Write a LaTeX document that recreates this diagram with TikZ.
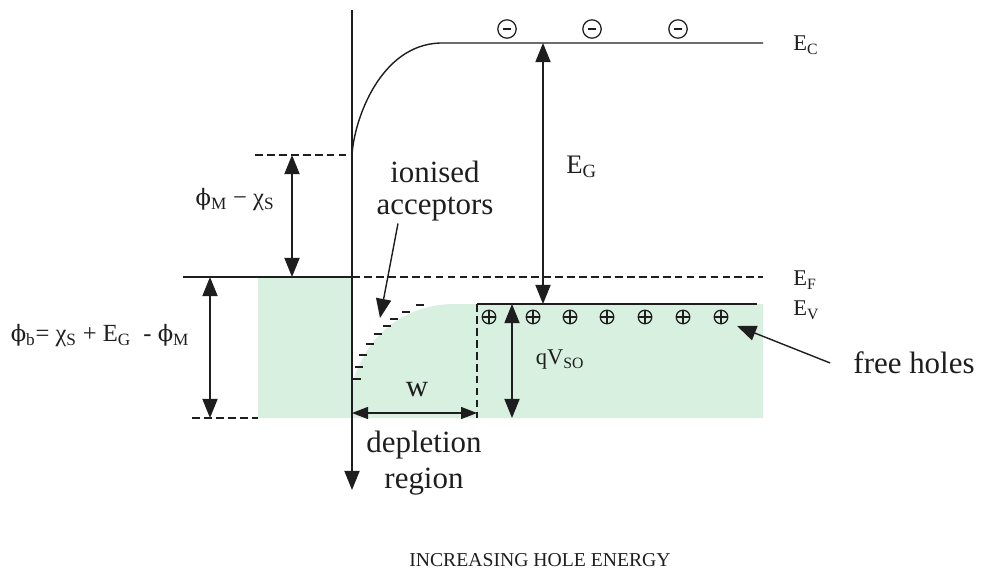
\documentclass[tikz,border=0pt]{standalone}
\usepackage{fontspec}
\setmainfont{Liberation Serif}
\newfontfamily\grk[Scale=0.92]{DejaVu Serif}
\usetikzlibrary{arrows.meta}
\definecolor{cmint}{HTML}{D8F0E0}
\definecolor{cink}{HTML}{1E1E1E}
\newcommand{\vphi}{{\grk ϕ}}
\tikzset{>={Triangle[length=4.8mm,width=3.8mm]},
  band/.style={line width=1pt,cink},
  lvl/.style={line width=1pt,cink,dash pattern=on 5.5pt off 3pt},
  dim/.style={<->,line width=1pt,cink},
  lbig/.style={inner sep=0pt,text=cink,font=\fontsize{22}{23}\selectfont},
  lmid/.style={inner sep=0pt,text=cink,font=\fontsize{16}{18}\selectfont},
  hole/.style={circle,draw=cink,line width=0.9pt,inner sep=0pt,minimum size=3.4mm,
    path picture={\draw[line width=0.9pt] (path picture bounding box.north) -- (path picture bounding box.south)
      (path picture bounding box.west) -- (path picture bounding box.east);}},
  elec/.style={circle,draw=cink,line width=0.9pt,inner sep=0pt,minimum size=4.6mm,
    path picture={\draw[line width=1.8pt] ([xshift=-0.9mm]path picture bounding box.center) -- ([xshift=0.9mm]path picture bounding box.center);}}}

\begin{document}
\begin{tikzpicture}[x=0.025cm,y=-0.025cm]
\useasboundingbox (0,0) rectangle (981,585);

% ============ shaded hole regions ============
\fill[cmint] (258,277) rectangle (352,418);
\fill[cmint] (352,418) -- (352,385) .. controls (364,340) and (400,304) .. (455,304)
  -- (763,304) -- (763,418) -- cycle;

% ============ named points ============
\coordinate (axTop) at (352,10);
\coordinate (axBot) at (352,490);
\coordinate (cbS) at (352,155);
\coordinate (cbK) at (440,43);
\coordinate (cbE) at (763,43);
\coordinate (phiL) at (255,155);
\coordinate (efL) at (183,277);
\coordinate (efM) at (352,277);
\coordinate (efE) at (763,277);
\coordinate (evL) at (477,304);
\coordinate (evE) at (757,304);
\coordinate (wR) at (477,418);
\coordinate (botL) at (192,418);
\coordinate (botR) at (258,418);

% ============ axis and bands ============
\draw[band,->] (axTop) -- (axBot);
\draw[band] (cbS) .. controls (354,120) and (380,45) .. (cbK) -- (cbE);
\draw[lvl] (phiL) -- (cbS);
\draw[band] (efL) -- (efM);
\draw[lvl] (efM) -- (efE);
\draw[band] (evL) -- (evE);
\draw[lvl] (evL) -- (wR);
\draw[lvl] (botL) -- (botR);

% ionised acceptors along the bent band
\foreach \x/\y in {420/305,406/312,394/319,387/326,378/334,370/344,363/355,359/367,357/379}
  \draw[line width=1pt,cink] (\x-4,\y) -- (\x+4,\y);

% ============ carriers ============
\foreach \x [count=\i] in {507,592,678}
  \node[elec] (e\i) at (\x,29) {};
\foreach \x [count=\i] in {489,533,570,607,645,683,721}
  \node[hole] (h\i) at (\x,317) {};

% ============ dimension arrows ============
\coordinate (d1a) at (292,155); \coordinate (d1b) at (292,277);
\coordinate (d2a) at (210,277); \coordinate (d2b) at (210,418);
\coordinate (d3a) at (543,43);  \coordinate (d3b) at (543,304);
\coordinate (d4a) at (512,304); \coordinate (d4b) at (512,418);
\coordinate (d5a) at (352,413); \coordinate (d5b) at (477,413);
\draw[dim] (d1a) -- (d1b);
\draw[dim] (d2a) -- (d2b);
\draw[dim] (d3a) -- (d3b);
\draw[dim] (d4a) -- (d4b);
\draw[line width=1pt,cink,{Triangle[length=4mm,width=3mm]}-{Triangle[length=4mm,width=3mm]}] (d5a) -- (d5b);

% ============ labels ============
\node[lmid,anchor=west] (lEC) at (793,45) {E\textsubscript{C}};
\node[lmid,anchor=west] (lEF) at (793,280) {E\textsubscript{F}};
\node[lmid,anchor=west] (lEV) at (793,310) {E\textsubscript{V}};
\node[lbig,font=\fontsize{19}{21}\selectfont,anchor=west] (lEG) at (566,167) {E\textsubscript{G}};
\node[lmid,font=\fontsize{17.5}{19}\selectfont] (lphi) at (235,200) {\vphi\textsubscript{M} − χ\textsubscript{S}};
\node[lmid,font=\fontsize{17.5}{19}\selectfont] (lphib) at (100,336) {\vphi\textsubscript{b}= χ\textsubscript{S} + E\textsubscript{G}~ - \vphi\textsubscript{M}};
\node[lmid] (lqv) at (560,360) {qV\textsubscript{SO}};
\node[lbig] (lw) at (417,390) {w};
\node[lbig,align=center] (lacc) at (435,191) {ionised\\acceptors};
\node[lbig,align=center,font=\fontsize{22}{26}\selectfont] (ldep) at (424,463) {depletion\\region};
\node[lbig] (lfree) at (914,363) {free holes};
\node[inner sep=0pt,text=cink,font=\fontsize{14}{16}\selectfont] (lhole) at (540,560) {INCREASING HOLE ENERGY};

% pointer arrows
\coordinate (accTip) at (380,318);
\coordinate (freeTip) at (737,326);
\draw[band,->] (lacc.south) ++(-37,2) -- (accTip);
\draw[band,->] (lfree.west) ++(-23,0) -- (freeTip);

\end{tikzpicture}
\end{document}
